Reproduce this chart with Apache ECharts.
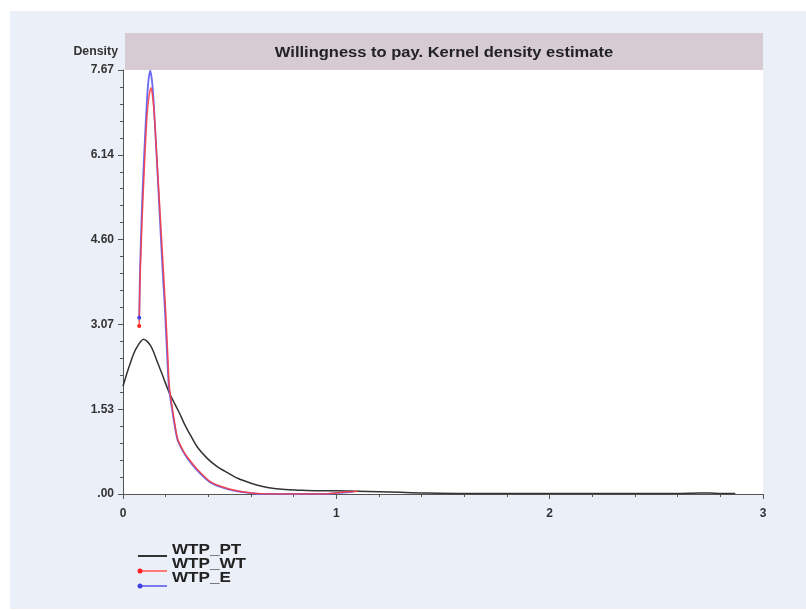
<!DOCTYPE html>
<html lang="en">
  <head>
    <meta charset="UTF-8" />
    <title>Willingness to pay</title>
    <script src="https://cdn.jsdelivr.net/npm/echarts@6/dist/echarts.min.js"></script>
    <style>
      body { margin: 0; background: #fff; }
      #bg { position: absolute; left: 10px; top: 11px; width: 796px; height: 598px; background: #ebf0f8; }
      #main { position: absolute; left: 0; top: 0; width: 806px; height: 610px; }
    </style>
  </head>

  <body>
    <div id="bg"></div>
    <div id="main"></div>
    <script type="text/javascript">
      // kernel density curves (x = WTP, y = density)
      const ptX = [0, 0.03, 0.06, 0.097, 0.13, 0.162, 0.19, 0.217, 0.24, 0.264, 0.29, 0.318, 0.35, 0.396, 0.44, 0.49, 0.54, 0.6, 0.65, 0.708, 0.76, 0.82, 0.9, 1.0, 1.1, 1.2, 1.3, 1.4, 1.6, 1.8, 2.0, 2.2, 2.4, 2.6, 2.7, 2.75, 2.8, 2.87];
      const ptY = [1.95, 2.32, 2.62, 2.8, 2.68, 2.38, 2.1, 1.83, 1.65, 1.47, 1.25, 1.05, 0.84, 0.64, 0.5, 0.385, 0.28, 0.195, 0.14, 0.1, 0.08, 0.07, 0.06, 0.06, 0.05, 0.04, 0.03, 0.02, 0.01, 0.01, 0.01, 0.01, 0.01, 0.01, 0.02, 0.02, 0.01, 0.01];

      const wtX = [0.076, 0.08, 0.09, 0.1, 0.112, 0.122, 0.131, 0.144, 0.16, 0.175, 0.19, 0.2, 0.21, 0.217, 0.232, 0.256, 0.28, 0.303, 0.35, 0.41, 0.49, 0.58, 0.65, 0.8, 0.95, 1.0, 1.05, 1.1];
      const wtY = [3.04, 3.9, 5.0, 5.9, 6.8, 7.2, 7.35, 7.0, 6.0, 5.0, 4.0, 3.3, 2.5, 1.95, 1.53, 1.0, 0.8, 0.66, 0.44, 0.22, 0.1, 0.03, 0.005, 0.0, 0.0, 0.02, 0.04, 0.05];

      const eX = [0.076, 0.08, 0.09, 0.1, 0.112, 0.12, 0.128, 0.14, 0.155, 0.17, 0.185, 0.197, 0.207, 0.215, 0.23, 0.254, 0.28, 0.303, 0.35, 0.41, 0.49, 0.58, 0.65, 0.8, 0.95, 1.0, 1.05, 1.08];
      const eY = [3.19, 4.1, 5.3, 6.2, 7.1, 7.5, 7.66, 7.3, 6.3, 5.2, 4.1, 3.3, 2.5, 1.95, 1.53, 1.0, 0.78, 0.64, 0.42, 0.21, 0.09, 0.025, 0.0, 0.0, 0.0, 0.02, 0.03, 0.04];

      const seriesNames = ["WTP_PT", "WTP_WT", "WTP_E"];
      const yMax = 7.67;

      const font = "'Liberation Sans', Arial, sans-serif";

      function pairs(xs, ys, dot, color) {
        return xs.map((x, i) => {
          if (i === 0 && dot) {
            return { value: [x, ys[i]], symbol: "circle", symbolSize: 4, itemStyle: { color: color } };
          }
          return [x, ys[i]];
        });
      }

      let options = {
        animation: false,
        grid: {
          left: 123, right: 43, top: 70, bottom: 116,
          show: true, backgroundColor: "#fff", borderWidth: 0,
        },
        xAxis: {
          type: "value", min: 0, max: 3, interval: 1,
          axisLine: { lineStyle: { color: "#555", width: 1 } },
          axisTick: { length: 5, lineStyle: { color: "#555" } },
          minorTick: { show: true, splitNumber: 5, length: 3, lineStyle: { color: "#555" } },
          splitLine: { show: false },
          axisLabel: { margin: 14, color: "#333", fontWeight: "bold", fontSize: 12, fontFamily: font },
        },
        yAxis: {
          type: "value", min: 0, max: yMax, interval: yMax / 5,
          axisLine: { show: true, lineStyle: { color: "#555", width: 1 } },
          axisTick: { show: true, length: 5, lineStyle: { color: "#555" } },
          minorTick: { show: true, splitNumber: 5, length: 3, lineStyle: { color: "#555" } },
          splitLine: { show: false },
          axisLabel: {
            margin: 9, color: "#333", fontWeight: "bold", fontSize: 12, fontFamily: font,
            formatter: (v) => v.toFixed(2).replace(/^0\./, "."),
          },
        },
        graphic: [
          { type: "rect", shape: { x: 125, y: 33, width: 638, height: 37 }, style: { fill: "#d6cbd3" } },
          {
            type: "text", x: 444, y: 53, scaleX: 1.18,
            style: { text: "Willingness to pay. Kernel density estimate", align: "center", verticalAlign: "middle", font: "bold 14px " + font, fill: "#222" },
          },
          {
            type: "text", x: 118, y: 51, scaleX: 0.95,
            style: { text: "Density", align: "right", verticalAlign: "middle", font: "bold 13px " + font, fill: "#333" },
          },
          // legend
          { type: "line", shape: { x1: 138, y1: 556, x2: 167, y2: 556 }, style: { stroke: "#333", lineWidth: 2 } },
          { type: "line", shape: { x1: 138, y1: 571, x2: 167, y2: 571 }, style: { stroke: "#ff7a7a", lineWidth: 2 } },
          { type: "circle", shape: { cx: 140, cy: 571, r: 2.5 }, style: { fill: "#ff2020" } },
          { type: "line", shape: { x1: 138, y1: 586, x2: 167, y2: 586 }, style: { stroke: "#7a7aee", lineWidth: 2 } },
          { type: "circle", shape: { cx: 140, cy: 586, r: 2.5 }, style: { fill: "#4040e0" } },
          { type: "text", x: 172, y: 550, scaleX: 1.22, style: { text: seriesNames[0], verticalAlign: "middle", font: "bold 14px " + font, fill: "#222" } },
          { type: "text", x: 172, y: 564, scaleX: 1.22, style: { text: seriesNames[1], verticalAlign: "middle", font: "bold 14px " + font, fill: "#222" } },
          { type: "text", x: 172, y: 578, scaleX: 1.22, style: { text: seriesNames[2], verticalAlign: "middle", font: "bold 14px " + font, fill: "#222" } },
        ],
        series: [
          {
            name: seriesNames[0], type: "line", smooth: 0.3, symbol: "none",
            lineStyle: { color: "#333", width: 1.5 },
            data: pairs(ptX, ptY, false),
          },
          {
            name: seriesNames[2], type: "line", smooth: 0.25, symbol: "none", showSymbol: true,
            lineStyle: { color: "#6a6af0", width: 1.8 },
            itemStyle: { color: "#4040e0" },
            data: pairs(eX, eY, true, "#4040e0"),
          },
          {
            name: seriesNames[1], type: "line", smooth: 0.25, symbol: "none", showSymbol: true,
            lineStyle: { color: "#ff3b3b", width: 1.5, opacity: 0.85 },
            itemStyle: { color: "#ff2020" },
            data: pairs(wtX, wtY, true, "#ff2020"),
          },
        ],
      };

      let myChart = echarts.init(document.getElementById("main"));
      myChart.setOption(options);
    </script>
  </body>
</html>
